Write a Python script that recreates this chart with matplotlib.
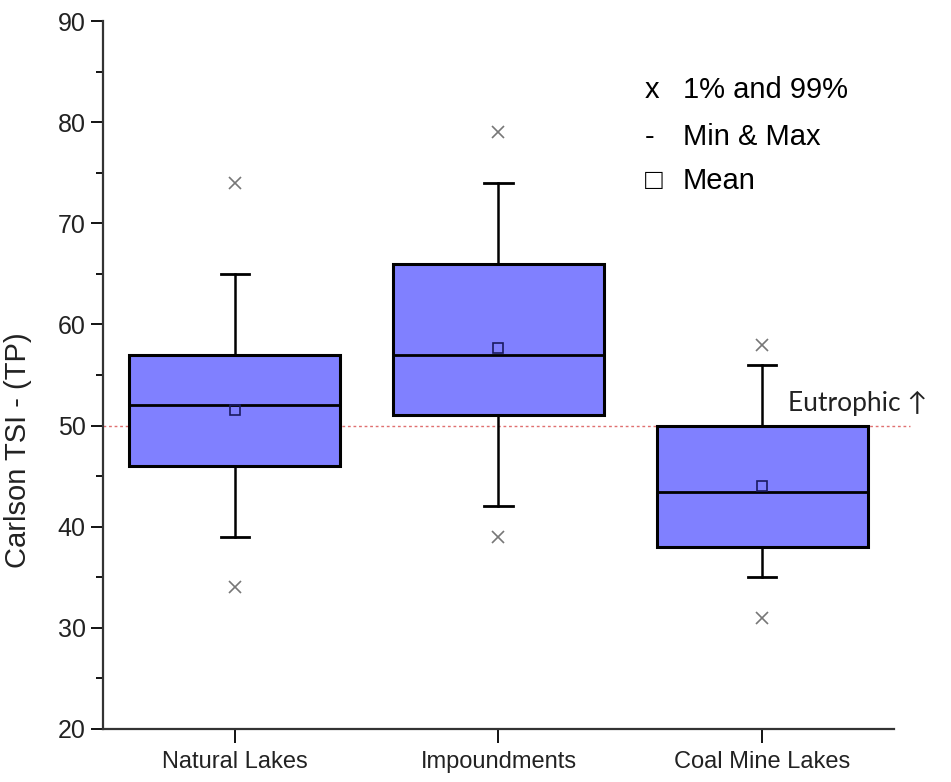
import matplotlib
matplotlib.use("Agg")
import matplotlib.pyplot as plt
from matplotlib.ticker import MultipleLocator

plt.rcParams['font.family'] = ['Liberation Sans', 'DejaVu Sans']

# values
categories = ["Natural Lakes", "Impoundments", "Coal Mine Lakes"]
q1 = [46, 51, 38]
median = [52, 57, 43.4]
q3 = [57, 66, 50]
whisker_low = [39, 42, 35]
whisker_high = [65, 74, 56]
mean = [51.5, 57.7, 44.0]
pct_1 = [34, 39, 31]
pct_99 = [74, 79, 58]
eutrophic_level = 50

stats = []
for i in range(len(categories)):
    stats.append({
        'label': categories[i],
        'q1': q1[i], 'med': median[i], 'q3': q3[i],
        'whislo': whisker_low[i], 'whishi': whisker_high[i],
        'mean': mean[i],
        'fliers': [pct_1[i], pct_99[i]],
    })

fig = plt.figure(figsize=(9.51, 7.82), dpi=100)
ax = fig.add_axes([0.1083, 0.0678, 0.8317, 0.9053])

positions = [1, 2, 3]
ax.bxp(stats, positions=positions, widths=0.8, capwidths=0.107,
       patch_artist=True, showmeans=True, showfliers=True,
       boxprops=dict(facecolor='#8080ff', edgecolor='black', linewidth=2.2),
       medianprops=dict(color='black', linewidth=2.0),
       whiskerprops=dict(color='black', linewidth=1.8),
       capprops=dict(color='black', linewidth=2.0),
       meanprops=dict(marker='s', markersize=7, markerfacecolor='none',
                      markeredgecolor='#1a1a60', markeredgewidth=1.2),
       flierprops=dict(marker='x', markersize=9, markeredgecolor='#777777',
                       markeredgewidth=1.2))

# eutrophic threshold
ax.plot([0.5, 3.56], [eutrophic_level, eutrophic_level], color='#e07070',
        linestyle=(0, (2, 2)), linewidth=1.0, clip_on=False, zorder=0.5)
ax.text(3.10, 51.4, "Eutrophic \u2191", family=['Lato', 'DejaVu Sans'],
        fontsize=19, color='#222222', va='baseline', ha='left')

ax.set_xlim(0.5, 3.5)
ax.set_ylim(20, 90)
ax.set_xticks(positions)
ax.set_xticklabels(categories, fontsize=17, color='#222222')
ax.yaxis.set_major_locator(MultipleLocator(10))
ax.yaxis.set_minor_locator(MultipleLocator(5))
ax.tick_params(axis='y', labelsize=18, labelcolor='#222222', length=9,
               width=1.3, direction='out')
ax.tick_params(axis='y', which='minor', length=5, width=1.3)
ax.tick_params(axis='x', length=10, width=1.3, direction='out', pad=6)

for s in ['top', 'right']:
    ax.spines[s].set_visible(False)
for s in ['left', 'bottom']:
    ax.spines[s].set_linewidth(1.6)
    ax.spines[s].set_color('#333333')

ax.set_ylabel("Carlson TSI - (TP)", fontsize=21, color='#222222')
ax.yaxis.set_label_coords(-0.09, 0.394)

# legend drawn as text, like the original
legend_sym = ["x", "-", "\u25a1"]
legend_txt = ["1% and 99%", "Min & Max", "Mean"]
legend_y = [0.891, 0.825, 0.763]
for sym, txt, y in zip(legend_sym, legend_txt, legend_y):
    ax.text(0.685, y, sym, transform=ax.transAxes, fontsize=21, va='baseline')
    ax.text(0.733, y, txt, transform=ax.transAxes, fontsize=21, va='baseline')

fig.savefig("out.png", dpi=100)
